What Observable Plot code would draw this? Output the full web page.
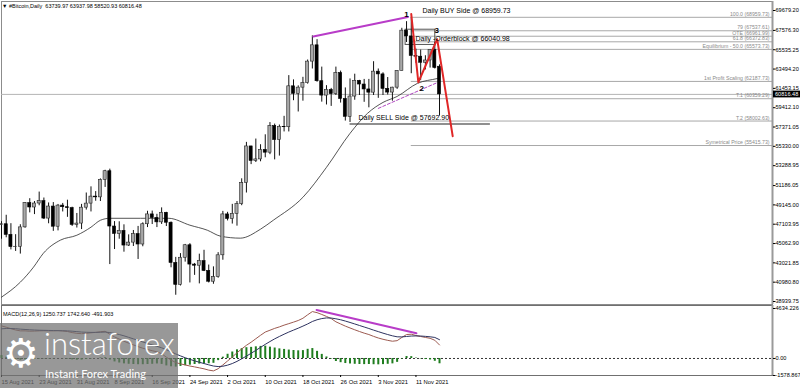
<!DOCTYPE html>
<html><head><meta charset="utf-8">
<script src="https://cdn.jsdelivr.net/npm/d3@7"></script>
<script src="https://cdn.jsdelivr.net/npm/@observablehq/plot@0.6"></script>
<style>
html,body{margin:0;padding:0;background:#fff;}
#wrap{position:relative;width:800px;height:388px;overflow:hidden;font-family:"Liberation Sans",Arial,sans-serif;}
#main{position:absolute;left:0;top:0;}
#macd{position:absolute;left:0;top:305px;}
.hdr{position:absolute;font-size:5.5px;line-height:7px;color:#000;white-space:pre;}
#logo{position:absolute;left:0;top:323px;width:178px;height:65px;background:rgba(112,112,112,0.72);color:#fff;}
#logo span{position:absolute;white-space:nowrap;}
</style></head><body>
<div id="wrap">
 <div id="main"></div>
 <div id="macd"></div>
 <div class="hdr" style="left:2px;top:3px">▼ #Bitcoin,Daily  63739.97 63937.98 58520.93 60816.48</div>
 <div class="hdr" style="left:3px;top:311px">MACD(12,26,9) 1250.737 1742.640 -491.903</div>
 <div id="logo">
  <span style="left:3px;top:10px;font-size:40px;line-height:40px;font-family:'DejaVu Sans'">⚙</span>
  <span style="left:44px;top:2px;font-size:31px;line-height:36px;font-family:Lato;font-weight:300">instaforex</span>
  <span style="left:45px;top:44px;font-size:11px;line-height:14px;font-family:Lato">Instant Forex Trading</span>
 </div>
</div>
<script>
// ---------- DATA (day index 0 = 15 Aug 2021, one bar per day) ----------
const opens = [47020,47100,45980,44690,44720,46770,49340,48870,49290,49540,47700,48970,46840,49070,48900,48800,47030,
47170,48850,49280,50020,49940,51790,52700,46860,46080,46400,44850,45160,46060,44960,47100,48140,47760,47300,48310,47260,43010,40700,43560,44880,42840,42720,43210,42170,41030,41520,
43820,48140,47660,48200,49220,51470,55320,53790,53950,54950,54660,57470,56000,57370,57350,61670,60880,61530,62010,64280,66000,62210,60690,61290,60850,63080,60330,58450,60590,62250,61860,
61340,61000,63220,62930,61400,61010,61530,63300,67550,66940,64880,64800,64160,64400,65500,63739.97];
const highs = [47370,48050,47160,46000,47050,49390,49800,49500,50500,49870,49350,49390,49190,49300,49640,48900,48240,
49200,50400,51050,50550,51890,52800,52920,47380,47360,47040,45980,46440,46870,47250,48470,48490,48150,48830,48360,47340,43600,44000,44970,45050,42960,43940,44350,42790,42600,44100,
48460,48360,49200,49500,51900,55750,55330,56100,55500,56550,57840,57680,57580,58500,62800,62350,61720,62620,64450,67000,66600,63700,61740,61450,63700,63280,61500,62450,62950,62300,62400,
62400,64270,63500,63100,62600,61570,63300,67800,68500,68960,65600,65500,64900,65500,66300,63937.98];
const lows = [45520,45670,44390,44230,43950,46680,48300,48120,49050,47600,47150,46350,46400,48400,47830,46870,46700,
46540,48600,48400,49530,49500,50990,42840,44430,45520,44150,44750,44750,43380,44720,46750,47070,46750,47080,46860,42500,39600,40580,43100,40900,41700,40800,42100,40900,40760,41400,
43300,47450,47120,46900,49060,50400,53400,53620,53700,54120,54450,53900,54300,56850,56850,60150,58960,60100,61900,63500,62100,60000,59700,59550,60700,59900,58000,57850,60200,60700,59980,
59400,60700,60400,60700,60750,60100,61350,63300,66300,63000,64100,62300,63400,63600,63500,58520.93];
const closes = [47100,45980,44690,44720,46770,49340,48870,49290,49540,47700,48970,46840,49070,48900,48800,47030,47170,
48850,49280,50020,49940,51790,52700,46860,46080,46400,44850,45160,46060,44960,47100,48140,47760,47300,48310,47260,43010,40700,43560,44880,42840,42720,43210,42170,41030,41520,43820,
48140,47660,48200,49220,51470,55320,53790,53950,54950,54660,57470,56000,57370,57350,61670,60880,61530,62010,64280,66000,62210,60690,61290,60850,63080,60330,58450,60590,62250,61860,61340,
61000,63220,62930,61400,61010,61530,63300,67550,66940,64880,64800,64160,64400,65500,63610,60816.48];

// moving average line (day index, price)
const maIdx = [0,4,6.8,8.9,12.5,16,19,21,23,29.5,35.5,40,43.7,46.5,50.7,55,57.7,64,69,74,77.7,81,84,88.3,92.6,93];
const maVal = [39400,40980,42570,44040,45420,45940,46790,47520,47730,47730,47730,47000,46470,45840,45630,46580,47520,49950,53110,56700,58810,59970,60600,61980,62500,62550];
// purple dashed segment
const dashIdx = [80,92.6];
const dashVal = [59340,62080];

// MACD(12,26,9) panel values per day
const macdMain = [3020,2900,2760,2640,2560,2560,2530,2540,2560,2570,2560,2560,2580,2550,2500,2400,2330,2300,2330,2380,
2420,2480,2520,2250,2000,1800,1600,1420,1260,1100,950,830,720,620,440,120,-150,-380,-500,-600,
-700,-780,-870,-960,-1080,-1150,-950,-600,-230,130,530,880,1220,1510,1830,2150,2450,2620,2790,2930,
3090,3230,3370,3520,3730,4050,4350,4250,4080,3900,3700,3400,3200,3000,2830,2660,2500,2350,2220,2050,
1900,1780,1680,1600,1650,1950,2220,2250,2130,2040,1950,1870,1690,1250.737];
const macdSignal = [2750,2780,2780,2760,2720,2690,2660,2640,2620,2610,2600,2590,2580,2570,2560,2530,2490,2450,2430,2420,
2420,2430,2450,2400,2320,2220,2100,1960,1820,1680,1530,1390,1260,1130,990,810,620,420,240,70,
-80,-220,-350,-470,-590,-700,-750,-720,-620,-470,-270,-30,220,480,750,1030,1310,1570,1820,2040,
2250,2450,2630,2810,3000,3200,3430,3590,3700,3760,3750,3680,3590,3470,3340,3200,3060,2920,2780,2630,
2490,2350,2220,2100,2010,2000,2040,2080,2090,2080,2050,2010,1950,1742.640];
const macdHist = [270,120,-20,-120,-160,-130,-130,-100,-60,-40,-40,-30,0,-20,-60,-130,-160,-150,-100,-40,
0,50,70,-150,-320,-420,-500,-540,-560,-580,-580,-560,-540,-510,-550,-690,-770,-800,-740,-670,
-620,-560,-520,-490,-490,-450,-200,120,390,600,800,910,1000,1030,1080,1120,1140,1050,970,890,
840,780,740,710,730,850,920,660,380,140,-50,-280,-390,-470,-510,-540,-560,-570,-560,-580,
-590,-570,-540,-500,-360,-50,180,170,40,-40,-100,-140,-260,-491.903];

// axis ticks
const priceTicks = [69679.20,67576.30,65535.25,63494.20,61453.15,59412.10,57371.05,55330.00,53288.95,51186.05,49145.00,47103.95,45062.90,43021.85,40980.80,38939.75];
const macdTicks = [4634.226,0,-1578.867];
const macdTickLabels = ["4634.226","0.00","-1578.867"];
const dateTickIdx = [0,8,16,24,32,40,48,56,64,72,80,88];
const dateTickLabels = ["15 Aug 2021","23 Aug 2021","31 Aug 2021","8 Sep 2021","16 Sep 2021","24 Sep 2021","2 Oct 2021","10 Oct 2021","18 Oct 2021","26 Oct 2021","3 Nov 2021","11 Nov 2021"];

// Fibonacci / annotation levels
const fibLabels = ["100.0 (68959.73)","79 (67537.61)","OTE (66961.99)","61.8 (66372.83)","Equilibrium - 50.0 (65573.73)","1st Profit Scaling (62187.73)","T.1 (60359.29)","T.2 (58002.63)","Symetrical Price (55415.73)"];
const fibValues = [68959.73,67537.61,66961.99,66372.83,65573.73,62187.73,60359.29,58002.63,55415.73];
const fibStartIdx = 87;
const zigIdx = [87,88.5,92.5,95.8];
const zigVal = [69300,62100,66650,56400];
const zigLabelText = ["1","2","3"];
const zigLabelIdx = [86,89.2,92.4];
const zigLabelVal = [69257,61450,67570];
const divIdx = [66.2,86.3];
const divVal = [66936,68990];
const macdDivIdx = [66.9,88.1];
const macdDivVal = [4500,2330];
const noteText = ["Daily BUY Side @ 68959.73","Daily -Orderblock @ 66040.98","Daily SELL Side @ 57692.90"];
const noteIdx = [89.4,87.9,75.8];
const noteVal = [68959.73,66040.98,57692.90];
const sellIdx = [74,103.8];
const sellVal = 57692.90;
const obIdx = [85.8,92.1];
const obVal = [66040.98,67650];
const lastClose = 60816.48;

// ---------- BUILD ----------
const X_END = 163.7;
const candles = opens.map((o,i)=>({i, open:o, high:highs[i], low:lows[i], close:closes[i]}));
const bull = candles.filter(d=>d.close>=d.open);
const bear = candles.filter(d=>d.close<d.open);
const ma = maIdx.map((x,k)=>({x, y:maVal[k]}));
const dash = dashIdx.map((x,k)=>({x, y:dashVal[k]}));
const fibs = fibValues.map((v,k)=>({v, label:fibLabels[k]}));
const zig = zigIdx.map((x,k)=>({x, y:zigVal[k]}));
const zigL = zigLabelIdx.map((x,k)=>({x, y:zigLabelVal[k], t:zigLabelText[k]}));
const div = divIdx.map((x,k)=>({x, y:divVal[k]}));
const notes = noteIdx.map((x,k)=>({x, y:noteVal[k], t:noteText[k]}));
const macdRows = macdMain.map((m,i)=>({i, m, s:macdSignal[i], h:macdHist[i]}));
const mdiv = macdDivIdx.map((x,k)=>({x, y:macdDivVal[k]}));

function priceBox(a,b,c,d){
  const scales = (a && typeof a.y === "function") ? a : b;
  const dims = (a && typeof a.y === "function") ? b : d;
  const y = scales.y(lastClose);
  const x0 = dims.width - dims.marginRight + 1;
  const g = d3.create("svg:g");
  g.append("rect").attr("x", x0).attr("y", y-3.3).attr("width", 28).attr("height", 6.8).attr("fill", "#000");
  g.append("text").attr("x", x0+2).attr("y", y).attr("dy","0.35em").attr("fill","#fff")
   .attr("text-anchor","start").attr("font-size", 5.6).text(lastClose.toFixed(2));
  return g.node();
}
const font = '"Liberation Sans", Arial, sans-serif';

const main = Plot.plot({
  width: 800, height: 305,
  marginLeft: 1, marginRight: 28, marginTop: 1, marginBottom: 1,
  style: {fontFamily: font, fontSize: "5.6px", background: "transparent", overflow: "visible"},
  x: {domain: [0, X_END], axis: null},
  y: {domain: [38939.75, 69679.2], range: [301, 10], axis: null},
  marks: [
    Plot.frame({stroke: "#8c8c8c"}),
    Plot.ruleY([lastClose], {stroke: "#b4b4b4", strokeWidth: 1}),
    Plot.ruleY(fibs, {y: "v", x1: () => fibStartIdx, x2: () => X_END, stroke: "#a8a8a8", strokeWidth: 1}),
    Plot.text(fibs, {y: "v", x: () => X_END, text: "label", textAnchor: "end", dx: -3, dy: -3, fill: "#8a8a8a", fontSize: 5.2}),
    Plot.rect([0], {x1: () => obIdx[0], x2: () => obIdx[1], y1: () => obVal[0], y2: () => obVal[1], fill: "none", stroke: "#555", strokeWidth: 1}),
    Plot.ruleY([sellVal], {x1: () => sellIdx[0], x2: () => sellIdx[1], stroke: "#6a6a6a", strokeWidth: 1.5}),
    Plot.line(ma, {x: "x", y: "y", stroke: "#2a2a2a", strokeWidth: 0.8, curve: "monotone-x"}),
    Plot.line(dash, {x: "x", y: "y", stroke: "#b048c0", strokeWidth: 1, strokeDasharray: "3,2"}),
    Plot.ruleX(candles, {x: "i", y1: "low", y2: "high", stroke: "#111", strokeWidth: 1}),
    Plot.rect(bull, {x1: d => d.i - 0.33, x2: d => d.i + 0.33, y1: "open", y2: "close", fill: "#a8a8a8", stroke: "#222", strokeWidth: 0.6}),
    Plot.rect(bear, {x1: d => d.i - 0.33, x2: d => d.i + 0.33, y1: "open", y2: "close", fill: "#000", stroke: "#000", strokeWidth: 0.6}),
    Plot.line(div, {x: "x", y: "y", stroke: "#b83cc8", strokeWidth: 2}),
    Plot.line(zig, {x: "x", y: "y", stroke: "#e02626", strokeWidth: 2}),
    Plot.text(zigL, {x: "x", y: "y", text: "t", fontWeight: "bold", fontSize: 8, fill: "#000"}),
    Plot.text(notes, {x: "x", y: "y", text: "t", textAnchor: "start", dy: -6.5, fontSize: 7, fill: "#000"}),
    Plot.ruleX([X_END], {stroke: "#9a9a9a", strokeWidth: 2}),
    Plot.axisY(priceTicks, {anchor: "right", tickSize: 2.5, tickPadding: 0.5, tickFormat: d => d.toFixed(2), fontSize: 5.6, label: null}),
    priceBox
  ]
});
document.getElementById("main").appendChild(main);

const macd = Plot.plot({
  width: 800, height: 83,
  marginLeft: 1, marginRight: 28, marginTop: 0, marginBottom: 13,
  style: {fontFamily: font, fontSize: "5.6px", background: "transparent", overflow: "visible"},
  x: {domain: [0, X_END], axis: null},
  y: {domain: [-1578.867, 4634.226], range: [70, 3], axis: null},
  marks: [
    Plot.frame({stroke: "#707070"}),
    Plot.ruleY([0], {stroke: "#333", strokeDasharray: "2,2", strokeWidth: 1}),
    Plot.ruleX(macdRows, {x: "i", y1: 0, y2: "h", stroke: "#1f7d1f", strokeWidth: 2}),
    Plot.line(macdRows, {x: "i", y: "m", stroke: "#9c5a50", strokeWidth: 1}),
    Plot.line(macdRows, {x: "i", y: "s", stroke: "#2e3360", strokeWidth: 1}),
    Plot.line(mdiv, {x: "x", y: "y", stroke: "#b83cc8", strokeWidth: 2}),
    Plot.ruleX([X_END], {stroke: "#9a9a9a", strokeWidth: 2}),
    Plot.axisY(macdTicks, {anchor: "right", tickSize: 2.5, tickPadding: 0.5, tickFormat: d => macdTickLabels[macdTicks.indexOf(d)], fontSize: 5.6, label: null}),
    Plot.axisX(dateTickIdx, {anchor: "bottom", tickSize: 2, tickPadding: 2, textAnchor: "start", tickFormat: d => dateTickLabels[dateTickIdx.indexOf(d)], fontSize: 5.8, label: null})
  ]
});
document.getElementById("macd").appendChild(macd);
</script>
</body></html>
